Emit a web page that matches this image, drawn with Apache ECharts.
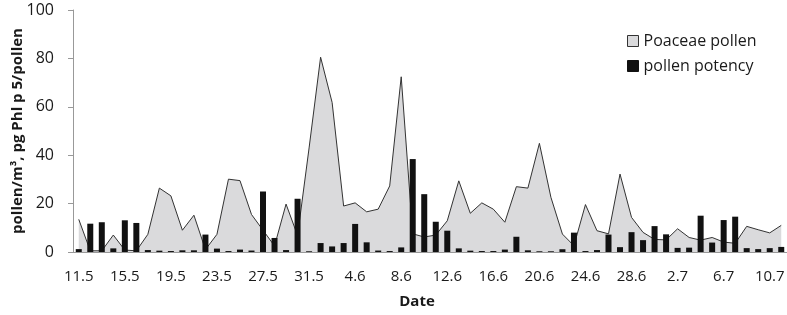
<!DOCTYPE html>
<html>
<head>
<meta charset="utf-8">
<script src="https://cdn.jsdelivr.net/npm/echarts@6/dist/echarts.min.js"></script>
<style>
  html, body { margin: 0; padding: 0; background: #fff; }
  #main { width: 787px; height: 315px; }
</style>
</head>
<body>
<div id="main"></div>
<script>
// dates, daily from 11 May to 11 July
const dates = [
  '11.5','12.5','13.5','14.5','15.5','16.5','17.5','18.5','19.5','20.5','21.5',
  '22.5','23.5','24.5','25.5','26.5','27.5','28.5','29.5','30.5','31.5',
  '1.6','2.6','3.6','4.6','5.6','6.6','7.6','8.6','9.6','10.6','11.6','12.6',
  '13.6','14.6','15.6','16.6','17.6','18.6','19.6','20.6','21.6','22.6','23.6',
  '24.6','25.6','26.6','27.6','28.6','29.6','30.6',
  '1.7','2.7','3.7','4.7','5.7','6.7','7.7','8.7','9.7','10.7','11.7'
];

// Poaceae pollen (pollen/m3)
const poaceae = [
  13.5, 0.5, 0.5, 7.0, 0.8, 0.5, 7.3, 26.4, 23.2, 9.0, 15.2,
  1.0, 7.3, 30.1, 29.5, 15.5, 9.0, 2.5, 19.8, 6.8, 43.0,
  80.5, 61.8, 19.0, 20.3, 16.6, 17.7, 27.3, 72.4, 7.5, 6.2, 7.0, 12.9,
  29.4, 16.0, 20.3, 17.7, 12.3, 27.0, 26.4, 44.9, 22.6, 7.4, 2.6,
  19.6, 8.8, 7.5, 32.2, 14.3, 8.1, 5.2,
  5.0, 9.6, 6.0, 4.9, 6.0, 4.1, 3.6, 10.6, 9.2, 7.9, 11.0
];

// pollen potency (pg Phl p 5/pollen)
const potency = [
  1.2, 11.7, 12.3, 1.5, 13.1, 12.0, 0.8, 0.55, 0.4, 0.7, 0.7,
  7.2, 1.4, 0.4, 1.0, 0.6, 25.0, 5.8, 0.8, 22.0, 0.3,
  3.7, 2.3, 3.7, 11.6, 4.0, 0.6, 0.4, 1.9, 38.4, 23.9, 12.5, 8.8,
  1.5, 0.55, 0.4, 0.4, 1.0, 6.3, 0.7, 0.3, 0.3, 1.15, 8.0,
  0.4, 0.8, 7.2, 2.0, 8.2, 4.9, 10.7,
  7.3, 1.7, 1.8, 15.0, 3.9, 13.2, 14.6, 1.6, 1.2, 1.6, 2.1
];

const font = '"Open Sans", sans-serif';
const axisColor = '#999';
const textColor = '#1a1a1a';

const chart = echarts.init(document.getElementById('main'));

chart.setOption({
  animation: false,
  textStyle: { fontFamily: font },
  grid: { left: 73, right: 0, top: 10, bottom: 63, containLabel: false, outerBoundsMode: 'none' },
  legend: {
    orient: 'vertical',
    left: 622,
    top: 28,
    itemWidth: 11,
    itemHeight: 11,
    itemGap: 9,
    textStyle: { fontFamily: font, fontSize: 16, color: textColor, lineHeight: 16 },
    data: [
      { name: 'Poaceae pollen', icon: 'rect',
        itemStyle: { color: '#dadadc', borderColor: '#333', borderWidth: 1 } },
      { name: 'pollen potency', icon: 'rect',
        itemStyle: { color: '#111', borderColor: '#111', borderWidth: 1 } }
    ]
  },
  xAxis: {
    type: 'category',
    data: dates,
    boundaryGap: true,
    name: 'Date',
    nameLocation: 'middle',
    nameGap: 42,
    nameMoveOverlap: false,
    nameTextStyle: { fontFamily: font, fontSize: 15, fontWeight: 'bold', color: textColor, padding: [0, 26, 0, 0] },
    axisLine: { lineStyle: { color: axisColor, width: 1 } },
    axisTick: { interval: 3, length: 5, lineStyle: { color: axisColor } },
    axisLabel: { interval: 3, margin: 17, fontFamily: font, fontSize: 15, color: textColor }
  },
  yAxis: {
    type: 'value',
    min: 0,
    max: 100,
    interval: 20,
    name: 'pollen/m³, pg Phl p 5/pollen',
    nameLocation: 'middle',
    nameGap: 48,
    nameMoveOverlap: false,
    nameTextStyle: { fontFamily: font, fontSize: 15, fontWeight: 'bold', color: textColor },
    splitLine: { show: false },
    axisLine: { show: true, lineStyle: { color: axisColor, width: 1 } },
    axisTick: { show: true, length: 5, lineStyle: { color: axisColor } },
    axisLabel: { margin: 19, fontFamily: font, fontSize: 16, color: textColor }
  },
  series: [
    {
      name: 'Poaceae pollen',
      type: 'line',
      data: poaceae,
      symbol: 'none',
      z: 2,
      lineStyle: { color: '#333', width: 1 },
      itemStyle: { color: '#dadadc' },
      areaStyle: { color: '#dadadc', opacity: 1 }
    },
    {
      name: 'pollen potency',
      type: 'bar',
      data: potency,
      barWidth: 6,
      z: 3,
      itemStyle: { color: '#111' }
    }
  ]
});
</script>
</body>
</html>
